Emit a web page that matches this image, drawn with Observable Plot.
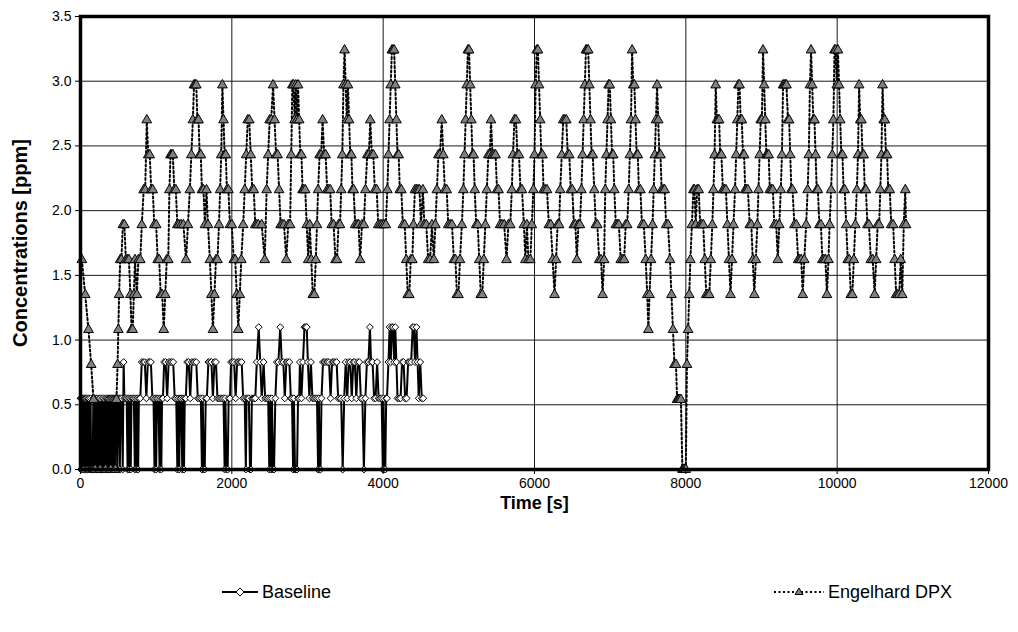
<!DOCTYPE html>
<html><head><meta charset="utf-8">
<script src="https://cdn.jsdelivr.net/npm/d3@7"></script>
<script src="https://cdn.jsdelivr.net/npm/@observablehq/plot@0.6"></script>
<style>
html,body{margin:0;padding:0;background:#fff;}
#wrap{position:relative;width:1018px;height:632px;font-family:"Liberation Sans",Arial,sans-serif;}
#legend{position:absolute;left:0;top:582px;width:1018px;height:20px;}
.item{position:absolute;top:0;height:20px;display:flex;align-items:center;font-size:18px;color:#000;}
.item svg{display:block;}
</style></head>
<body><div id="wrap"><div id="chart"></div><div id="legend"></div></div>
<script>
const seriesNames = ["Baseline", "Engelhard DPX"];
const xTicks = [0, 2000, 4000, 6000, 8000, 10000, 12000];
const yTicks = [0, 0.5, 1.0, 1.5, 2.0, 2.5, 3.0, 3.5];
const xLabel = "Time [s]";
const yLabel = "Concentrations [ppm]";

// [time (s), concentration (ppm)]
const baseline = [
[0,0.55],[5,0],[10,0.55],[15,0],[22,0.55],[30,0.55],[36,0],[42,0.55],[50,0],[56,0.55],
[64,0.55],[70,0],[76,0.55],[84,0],[90,0],[96,0.55],[104,0],[110,0.55],[118,0],[126,0],
[134,0.55],[140,0],[150,0],[160,0],[170,0.55],[176,0],[184,0.55],[192,0],[200,0],[210,0.55],
[216,0],[222,0.55],[230,0],[240,0],[250,0.55],[256,0],[262,0.55],[270,0],[280,0],[290,0.55],
[298,0],[306,0.55],[314,0],[322,0],[330,0.55],[338,0],[346,0.55],[354,0],[362,0.55],[370,0],
[378,0.55],[386,0],[394,0.55],[402,0],[410,0.55],[420,0.55],[428,0],[436,0.55],[446,0.55],[454,0],
[462,0.55],[474,0.55],[486,0],[496,0.55],[508,0.55],[520,0],[530,0.55],[545,0.55],[558,0],[570,0.83],
[580,0.55],[595,0.55],[610,0.55],[622,0],[632,0.55],[642,0],[652,0.55],[664,0],[674,0.55],[690,0.55],
[705,0.55],[718,0],[728,0.55],[740,0],[750,0.55],[762,0],[772,0.55],[790,0.55],[810,0.83],[830,0.83],
[850,0.83],[870,0.55],[890,0.83],[910,0.83],[930,0.83],[950,0.55],[965,0.55],[978,0],[988,0.55],[1000,0],
[1010,0.55],[1030,0.55],[1045,0],[1055,0.55],[1068,0],[1078,0.55],[1090,0.55],[1105,0.83],[1125,0.83],[1145,0.55],
[1165,0.83],[1185,0.83],[1205,0.83],[1225,0.83],[1245,0.55],[1265,0.55],[1280,0],[1290,0.55],[1305,0],[1315,0.55],
[1330,0.55],[1345,0],[1355,0.55],[1368,0],[1378,0.55],[1392,0.55],[1410,0.83],[1430,0.83],[1450,0.55],[1470,0.83],
[1490,0.83],[1510,0.83],[1530,0.83],[1550,0.55],[1570,0.55],[1590,0.55],[1605,0],[1615,0.55],[1630,0],[1642,0],
[1655,0.55],[1670,0.55],[1690,0.83],[1710,0.83],[1730,0.83],[1750,0.55],[1770,0.83],[1790,0.83],[1810,0.55],[1830,0.55],
[1850,0.55],[1870,0.55],[1890,0.55],[1905,0],[1915,0.55],[1930,0],[1945,0],[1958,0.55],[1975,0.55],[1990,0.83],
[2010,0.83],[2030,0.83],[2050,0.55],[2070,0.83],[2090,0.83],[2110,0.83],[2130,0.83],[2150,0.55],[2170,0.55],[2185,0],
[2195,0.55],[2210,0.55],[2225,0.55],[2240,0],[2252,0],[2265,0.55],[2280,0.55],[2295,0.55],[2310,0.55],[2330,0.83],
[2355,1.10],[2375,0.83],[2395,0.55],[2420,0.83],[2440,0.55],[2460,0.55],[2480,0.55],[2495,0],[2505,0.55],[2520,0],
[2530,0.55],[2545,0],[2558,0],[2575,0.55],[2595,0.83],[2615,0.83],[2640,1.10],[2660,0.83],[2680,0.83],[2700,0.55],
[2720,0.83],[2740,0.83],[2760,0.83],[2780,0.55],[2795,0.55],[2810,0],[2820,0.55],[2835,0],[2848,0],[2862,0],
[2875,0.55],[2890,0.55],[2900,0.83],[2920,0.55],[2940,0.83],[2960,1.10],[2975,1.10],[2990,1.10],[3005,0.83],[3025,0.55],
[3045,0.83],[3065,0.55],[3085,0.55],[3105,0.55],[3125,0.55],[3140,0],[3150,0.55],[3160,0],[3172,0],[3185,0.55],
[3205,0.83],[3225,0.83],[3245,0.83],[3265,0.83],[3285,0.83],[3305,0.55],[3325,0.83],[3345,0.83],[3365,0.83],[3385,0.83],
[3405,0.55],[3425,0.55],[3445,0.55],[3465,0],[3485,0.55],[3505,0.83],[3525,0.55],[3545,0.83],[3565,0.83],[3585,0.55],
[3605,0.83],[3625,0.83],[3645,0.55],[3665,0.83],[3685,0.83],[3705,0.55],[3725,0.55],[3745,0],[3765,0.55],[3785,0.83],
[3805,0.83],[3825,1.10],[3840,0.83],[3860,0.83],[3880,0.55],[3900,0.55],[3920,0.83],[3940,0.55],[3960,0.55],[3980,0.55],
[3995,0],[4005,0.55],[4015,0],[4028,0],[4040,0.55],[4050,0.55],[4070,0.83],[4085,1.10],[4100,0.83],[4115,1.10],
[4130,1.10],[4145,0.83],[4160,1.10],[4175,0.83],[4190,0.55],[4210,0.55],[4230,0.55],[4250,0.83],[4270,0.83],[4290,0.55],
[4310,0.55],[4330,0.83],[4350,0.83],[4370,0.83],[4390,1.10],[4405,1.10],[4420,0.83],[4440,1.10],[4455,0.83],[4470,0.55],
[4490,0.83],[4510,0.55],[4530,0.55]
];

const engelhard = [
[18,1.62],[62,1.35],[106,1.08],[141,0.81],[172,0.54],[194,0],[260,0],[330,0],[400,0],[460,0],
[475,0.54],[490,0.81],[500,1.08],[510,1.35],[525,1.62],[540,1.62],[560,1.89],[580,1.89],[600,1.62],[620,1.62],
[640,1.62],[660,1.35],[675,1.08],[690,1.08],[705,1.35],[720,1.62],[745,1.35],[765,1.62],[790,1.62],[810,1.89],
[835,2.16],[855,2.16],[876,2.70],[895,2.43],[915,2.43],[935,2.16],[955,2.16],[975,1.89],[1000,1.89],[1020,1.62],
[1040,1.62],[1060,1.35],[1080,1.35],[1100,1.08],[1120,1.35],[1140,1.62],[1160,1.62],[1175,2.16],[1190,2.43],[1205,2.43],
[1220,2.43],[1240,2.16],[1260,2.16],[1280,1.89],[1300,1.89],[1330,1.89],[1360,1.89],[1395,1.62],[1420,1.89],[1445,2.16],
[1465,2.43],[1485,2.70],[1500,2.97],[1515,2.97],[1530,2.97],[1545,2.70],[1560,2.70],[1575,2.43],[1590,2.43],[1605,2.16],
[1625,2.16],[1645,1.89],[1665,2.16],[1685,1.89],[1710,1.62],[1730,1.35],[1750,1.08],[1770,1.35],[1790,1.62],[1810,1.62],
[1830,1.89],[1845,2.16],[1860,2.43],[1875,2.97],[1890,2.70],[1905,2.43],[1920,2.43],[1935,2.16],[1955,2.16],[1975,1.89],
[2000,1.89],[2025,1.62],[2045,1.62],[2065,1.35],[2085,1.08],[2105,1.35],[2125,1.62],[2150,1.89],[2170,2.16],[2190,2.43],
[2210,2.70],[2230,2.70],[2250,2.43],[2270,2.16],[2290,2.16],[2310,1.89],[2330,1.89],[2350,1.89],[2395,1.89],[2435,1.62],
[2460,2.16],[2480,2.43],[2500,2.70],[2520,2.70],[2545,2.97],[2565,2.70],[2585,2.43],[2605,2.43],[2625,2.16],[2645,1.89],
[2665,1.89],[2690,1.89],[2720,1.62],[2745,1.89],[2770,1.89],[2785,2.43],[2800,2.97],[2815,2.97],[2830,2.70],[2845,2.97],
[2860,2.70],[2875,2.97],[2890,2.70],[2905,2.43],[2920,2.43],[2935,2.16],[2950,2.16],[2970,2.16],[2990,1.89],[3010,1.62],
[3030,1.89],[3050,1.62],[3070,1.35],[3090,1.35],[3110,1.62],[3125,1.89],[3140,2.16],[3160,2.43],[3180,2.43],[3200,2.70],
[3220,2.43],[3240,2.43],[3260,2.16],[3280,2.16],[3300,2.16],[3320,1.89],[3345,1.89],[3370,1.62],[3390,1.62],[3410,1.89],
[3430,1.89],[3445,2.16],[3460,2.43],[3475,2.97],[3490,3.24],[3505,2.97],[3520,2.70],[3535,2.97],[3550,2.70],[3565,2.43],
[3580,2.43],[3595,2.16],[3610,2.16],[3630,1.89],[3655,1.89],[3675,1.89],[3695,1.62],[3720,1.89],[3745,1.89],[3765,2.16],
[3790,2.43],[3810,2.43],[3830,2.70],[3850,2.43],[3870,2.43],[3890,2.16],[3915,2.16],[3935,1.89],[3960,1.89],[3985,1.89],
[4010,1.89],[4035,1.89],[4055,2.16],[4070,2.43],[4085,2.70],[4100,2.97],[4115,3.24],[4130,3.24],[4145,3.24],[4160,2.97],
[4175,2.70],[4190,2.43],[4205,2.43],[4220,2.16],[4240,2.16],[4260,1.89],[4285,1.89],[4305,1.62],[4325,1.35],[4345,1.35],
[4365,1.62],[4385,1.62],[4400,1.89],[4420,2.16],[4440,2.16],[4460,2.16],[4480,2.16],[4500,1.89],[4525,2.16],[4545,1.89],
[4570,1.89],[4595,1.62],[4620,1.62],[4645,1.89],[4670,1.62],[4690,1.89],[4710,2.16],[4730,2.43],[4750,2.43],[4775,2.70],
[4795,2.43],[4815,2.16],[4840,2.16],[4860,1.89],[4885,1.89],[4910,1.89],[4935,1.62],[4955,1.62],[4975,1.35],[4995,1.35],
[5015,1.62],[5040,1.89],[5060,2.16],[5075,2.43],[5090,2.70],[5105,2.97],[5120,3.24],[5135,3.24],[5150,2.97],[5165,2.70],
[5180,2.43],[5195,2.43],[5210,2.16],[5230,1.89],[5250,1.89],[5270,1.62],[5290,1.35],[5310,1.35],[5330,1.62],[5350,1.89],
[5370,2.16],[5390,2.43],[5410,2.43],[5425,2.70],[5445,2.43],[5465,2.43],[5485,2.43],[5505,2.16],[5525,2.16],[5545,1.89],
[5570,1.89],[5600,1.89],[5630,1.62],[5655,1.89],[5680,1.89],[5700,2.16],[5715,2.43],[5735,2.70],[5755,2.70],[5775,2.43],
[5795,2.43],[5815,2.16],[5835,2.16],[5860,1.89],[5880,1.62],[5900,1.89],[5920,1.62],[5945,1.62],[5965,1.89],[5985,2.16],
[6000,2.43],[6015,2.97],[6030,3.24],[6045,3.24],[6060,2.97],[6075,2.70],[6090,2.43],[6105,2.43],[6120,2.16],[6140,2.16],
[6165,2.16],[6190,1.89],[6215,1.89],[6240,1.62],[6265,1.35],[6285,1.62],[6305,1.89],[6325,1.89],[6340,2.16],[6360,2.43],
[6380,2.70],[6400,2.70],[6420,2.70],[6440,2.43],[6460,2.43],[6480,2.16],[6500,2.16],[6520,1.89],[6540,1.89],[6560,1.62],
[6580,1.89],[6600,1.89],[6620,2.16],[6635,2.43],[6650,2.70],[6665,2.97],[6680,3.24],[6695,3.24],[6710,3.24],[6725,2.97],
[6740,2.70],[6755,2.43],[6770,2.43],[6790,2.16],[6810,1.89],[6830,1.89],[6855,1.62],[6880,1.62],[6900,1.35],[6920,1.62],
[6935,2.16],[6950,2.43],[6965,2.70],[6980,2.97],[6995,2.97],[7010,2.70],[7025,2.43],[7040,2.43],[7055,2.16],[7075,1.89],
[7095,1.89],[7115,1.89],[7140,1.62],[7165,1.62],[7185,1.62],[7205,1.89],[7225,1.89],[7245,2.16],[7260,2.43],[7275,2.70],
[7290,3.24],[7305,2.97],[7320,2.97],[7335,2.70],[7350,2.43],[7365,2.43],[7380,2.16],[7400,2.16],[7420,1.89],[7445,1.89],
[7470,1.62],[7490,1.35],[7505,1.08],[7520,1.35],[7540,1.62],[7560,1.89],[7575,2.16],[7590,2.43],[7605,2.70],[7620,2.97],
[7635,2.70],[7650,2.43],[7665,2.43],[7680,2.16],[7700,2.16],[7720,2.16],[7740,1.89],[7765,1.89],[7790,1.62],[7810,1.35],
[7830,1.08],[7850,0.81],[7870,0.81],[7885,0.54],[7900,0.54],[7915,0.54],[7935,0.54],[7955,0],[7970,0],[7985,0],
[8000,0],[8015,0.81],[8030,1.08],[8045,1.35],[8060,1.62],[8080,1.89],[8100,2.16],[8115,2.16],[8130,1.89],[8150,2.16],
[8170,2.16],[8190,1.89],[8210,1.89],[8230,1.89],[8250,1.62],[8270,1.35],[8290,1.35],[8310,1.35],[8330,1.62],[8350,1.89],
[8365,2.16],[8380,2.43],[8395,2.97],[8410,2.70],[8425,2.70],[8440,2.70],[8455,2.43],[8470,2.43],[8490,2.16],[8510,2.16],
[8530,2.16],[8550,1.89],[8570,1.62],[8590,1.35],[8610,1.62],[8630,1.89],[8650,2.16],[8665,2.43],[8680,2.70],[8695,2.97],
[8710,2.97],[8725,2.70],[8740,2.70],[8755,2.43],[8770,2.43],[8785,2.16],[8800,2.16],[8820,2.16],[8845,1.89],[8865,1.89],
[8885,1.62],[8905,1.35],[8925,1.62],[8945,1.89],[8960,2.16],[8975,2.43],[8990,2.70],[9005,2.70],[9020,3.24],[9035,2.97],
[9050,2.70],[9065,2.43],[9080,2.43],[9095,2.43],[9110,2.16],[9130,2.16],[9150,2.16],[9170,1.89],[9195,1.89],[9215,1.62],
[9235,1.89],[9255,2.16],[9270,2.43],[9285,2.97],[9300,2.97],[9315,2.97],[9330,2.97],[9350,2.70],[9365,2.70],[9380,2.43],
[9395,2.16],[9410,2.16],[9435,1.89],[9460,1.89],[9485,1.62],[9505,1.62],[9525,1.62],[9545,1.35],[9565,1.62],[9590,1.89],
[9610,2.16],[9625,2.43],[9640,2.97],[9655,3.24],[9670,2.97],[9685,2.70],[9700,2.70],[9715,2.43],[9730,2.16],[9745,2.16],
[9765,1.89],[9785,1.89],[9805,1.62],[9825,1.62],[9845,1.62],[9865,1.35],[9885,1.62],[9900,1.89],[9920,2.16],[9935,2.43],
[9950,2.70],[9965,3.24],[9980,3.24],[9995,2.97],[10010,3.24],[10025,2.97],[10040,2.70],[10055,2.43],[10070,2.43],[10085,2.16],
[10100,2.16],[10120,1.89],[10140,1.62],[10160,1.62],[10180,1.35],[10200,1.35],[10220,1.62],[10240,1.89],[10260,2.16],[10275,2.43],
[10290,2.97],[10305,2.70],[10320,2.70],[10335,2.43],[10350,2.43],[10365,2.16],[10380,2.16],[10400,1.89],[10420,1.89],[10445,1.62],
[10470,1.62],[10495,1.35],[10515,1.62],[10535,1.89],[10555,1.89],[10570,2.16],[10585,2.43],[10600,2.97],[10615,2.70],[10630,2.70],
[10645,2.43],[10660,2.43],[10675,2.16],[10695,2.16],[10715,1.89],[10740,1.89],[10760,1.62],[10780,1.35],[10800,1.35],[10820,1.35],
[10840,1.62],[10860,1.35],[10880,1.89],[10900,2.16],[10910,1.89]
];

const baseData = baseline.map(([t, v]) => ({t, v}));
const engData = engelhard.map(([t, v]) => ({t, v}));

const chart = Plot.plot({
  width: 1018,
  height: 530,
  marginLeft: 80,
  marginRight: 30,
  marginTop: 16,
  marginBottom: 61,
  style: {fontFamily: '"Liberation Sans", Arial, sans-serif', fontSize: "14px", color: "#000", background: "#fff", overflow: "visible"},
  x: {domain: [0, 12000]},
  y: {domain: [0, 3.5]},
  marks: [
    Plot.gridX(xTicks, {stroke: "#000", strokeOpacity: 0.9, strokeWidth: 1}),
    Plot.gridY(yTicks, {stroke: "#000", strokeOpacity: 0.9, strokeWidth: 1}),
    Plot.line(baseData, {x: "t", y: "v", stroke: "#000", strokeWidth: 2}),
    Plot.dot(baseData, {x: "t", y: "v", symbol: "diamond2", r: 3.1, fill: "#fff", stroke: "#000", strokeWidth: 1}),
    Plot.line(engData, {x: "t", y: "v", stroke: "#000", strokeWidth: 2, strokeDasharray: "2,2.5"}),
    Plot.dot(engData, {x: "t", y: "v", symbol: "triangle", r: 3.6, fill: "#808080", stroke: "#000", strokeWidth: 1}),
    Plot.frame({stroke: "#000", strokeWidth: 3.5}),
    Plot.axisX({ticks: xTicks, tickSize: 5, tickPadding: 4, tickFormat: d => String(d), label: null, fontSize: 14}),
    Plot.axisY({ticks: yTicks, tickSize: 5, tickPadding: 4, tickFormat: d => d.toFixed(1), label: null, fontSize: 14}),
    Plot.text([xLabel], {text: d => d, frameAnchor: "bottom", lineAnchor: "middle", textAnchor: "middle", dy: 34, fontWeight: "bold", fontSize: 18}),
    Plot.text([yLabel], {text: d => d, frameAnchor: "left", lineAnchor: "middle", textAnchor: "middle", rotate: -90, dx: -60, fontWeight: "bold", fontSize: 20})
  ]
});
document.getElementById("chart").appendChild(chart);

// legend
const legend = document.getElementById("legend");
legend.innerHTML =
  `<div class="item" style="left:220px">
     <svg width="40" height="20"><line x1="2" y1="10" x2="38" y2="10" stroke="#000" stroke-width="2"/>
       <path d="M20,6L24,10L20,14L16,10Z" fill="#fff" stroke="#000" stroke-width="1"/></svg>
     <span style="margin-left:2px">${seriesNames[0]}</span></div>
   <div class="item" style="left:772px">
     <svg width="54" height="20"><line x1="2" y1="10" x2="52" y2="10" stroke="#000" stroke-width="2" stroke-dasharray="2,2.5"/>
       <path d="M27,6L31,12.5L23,12.5Z" fill="#808080" stroke="#000" stroke-width="1"/></svg>
     <span style="margin-left:2px">${seriesNames[1]}</span></div>`;
</script>
</body></html>
